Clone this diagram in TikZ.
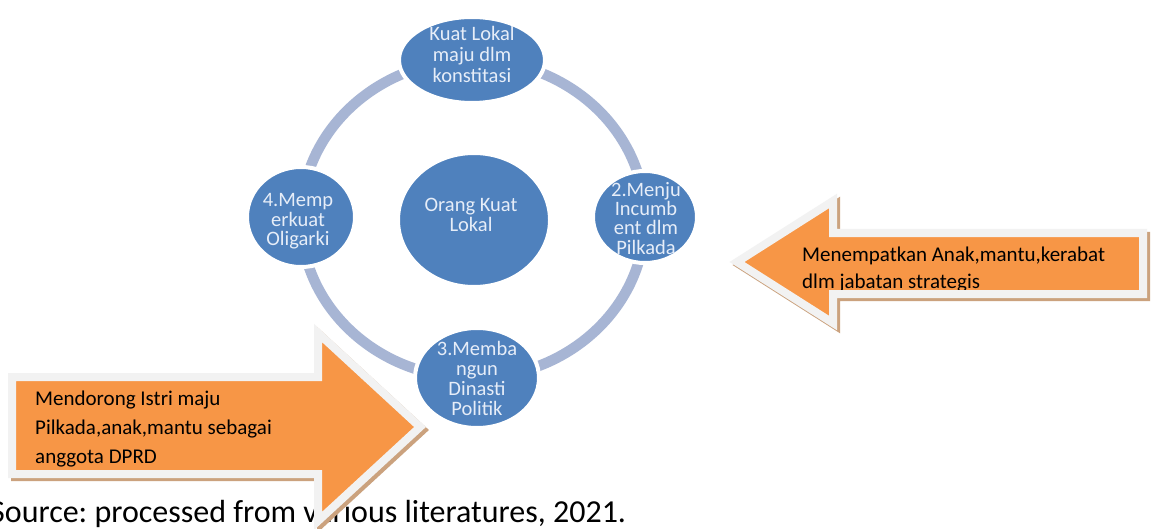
\documentclass[tikz,border=0pt]{standalone}
\usepackage{fontspec}
\setmainfont{Carlito}
\usetikzlibrary{shapes.geometric}
\definecolor{nodeblue}{RGB}{79,129,189}
\definecolor{nodetext}{RGB}{230,237,248}
\definecolor{ringc}{RGB}{167,181,212}
\definecolor{arrorange}{RGB}{247,150,70}
\definecolor{borderc}{RGB}{242,242,242}
\definecolor{shadowc}{RGB}{203,162,126}
\tikzset{
  bub/.style={ellipse, fill=nodeblue, draw=white, line width=4pt, inner sep=0pt, outer sep=0pt},
  btxt/.style={text=nodetext, font=\fontsize{20.5}{21}\selectfont, inner sep=0pt, anchor=base},
  atxt/.style={text=black, font=\fontsize{21}{25}\selectfont, inner sep=0pt, anchor=base west},
  ringline/.style={draw=ringc, line width=10.5pt},
  arrshadow/.style={fill=shadowc, draw=shadowc, line width=8pt, line join=miter},
  arrfill/.style={fill=arrorange},
  arrborder/.style={draw=borderc, line width=8pt, line join=miter},
}
\def\rightarrowshape{(737,262) -- (833,201) -- (833,233) -- (1143,233) -- (1143,294) -- (833,294) -- (833,323) -- cycle}
\def\leftarrowshape{(12,377) -- (318,377) -- (318,333) -- (420,427) -- (318,521) -- (318,474) -- (12,474) -- cycle}
\frenchspacing
\begin{document}
\begin{tikzpicture}[x=1pt,y=-1pt]
\useasboundingbox (0,0) rectangle (1155,529);
\fill[white] (0,0) rectangle (1155,529);
% ring
\draw[ringline] (473,219) ellipse [x radius=172pt, y radius=159pt];
% nodes
\node[bub, minimum width=146pt, minimum height=86pt] (n1) at (472,60) {};
\node[bub, minimum width=104pt, minimum height=92pt] (n2) at (645,217) {};
\node[bub, minimum width=124pt, minimum height=100pt] (n3) at (477,378) {};
\node[bub, minimum width=108pt, minimum height=100pt] (n4) at (301,217) {};
\node[bub, minimum width=152pt, minimum height=134pt] (nc) at (474,220) {};
% node texts
\begin{scope}
\clip (n1.center) ellipse [x radius=71pt, y radius=41pt];
\node[btxt] (t1a) at (472,41) {Kuat Lokal};
\node[btxt] (t1b) at (472,62) {maju dlm};
\node[btxt] (t1c) at (472,83) {konstitasi};
\end{scope}
\begin{scope}
\clip (n2.center) ellipse [x radius=50pt, y radius=44pt];
\node[btxt] (t2a) at (646,197) {2.Menju};
\node[btxt] (t2b) at (646,216) {Incumb};
\node[btxt] (t2c) at (646,235) {ent dlm};
\node[btxt] (t2d) at (646,254) {Pilkada};
\end{scope}
\begin{scope}
\clip (n3.center) ellipse [x radius=60pt, y radius=48pt];
\node[btxt] (t3a) at (477,355) {3.Memba};
\node[btxt] (t3b) at (477,375) {ngun};
\node[btxt] (t3c) at (477,395) {Dinasti};
\node[btxt] (t3d) at (477,415) {Politik};
\end{scope}
\begin{scope}
\clip (n4.center) ellipse [x radius=52pt, y radius=48pt];
\node[btxt] (t4a) at (298,207) {4.Memp};
\node[btxt] (t4b) at (298,226) {erkuat};
\node[btxt] (t4c) at (298,245) {Oligarki};
\end{scope}
\node[btxt] (tca) at (471,212) {Orang Kuat};
\node[btxt] (tcb) at (471,232) {Lokal};
% caption
\node[font=\fontsize{32}{36}\selectfont, inner sep=0pt, anchor=base west] (cap) at (-10,522) {Source: processed from various literatures, 2021.};
% right arrow (pointing left)
\begin{scope}[shift={(3,3)}]
\path[arrshadow] \rightarrowshape;
\end{scope}
\path[arrfill] \rightarrowshape;
\node[atxt] (ra1) at (802,261) {Menempatkan Anak,mantu,kerabat};
\node[atxt] (ra2) at (802,288) {dlm jabatan strategis};
\path[arrborder] \rightarrowshape;
% left arrow (pointing right)
\begin{scope}[shift={(3,3)}]
\path[arrshadow] \leftarrowshape;
\end{scope}
\path[arrfill] \leftarrowshape;
\node[atxt] (la1) at (35,405) {Mendorong Istri maju};
\node[atxt] (la2) at (35,434) {Pilkada,anak,mantu sebagai};
\node[atxt] (la3) at (35,463) {anggota DPRD};
\path[arrborder] \leftarrowshape;
\end{tikzpicture}
\end{document}
